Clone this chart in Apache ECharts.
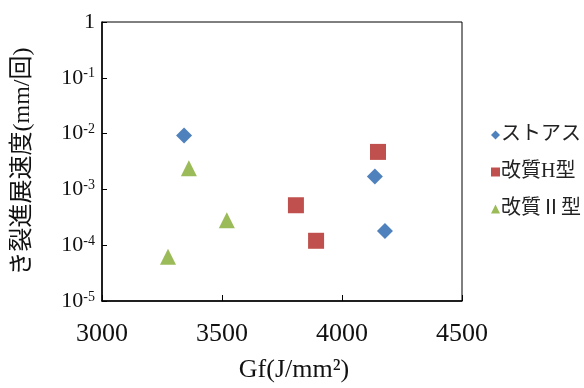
<!DOCTYPE html>
<html>
<head>
<meta charset="utf-8">
<script src="https://cdn.jsdelivr.net/npm/echarts@6/dist/echarts.min.js"></script>
<style>html,body{margin:0;padding:0;background:#fff;}#c{width:584px;height:388px;}</style>
</head>
<body>
<div id="c"></div>
<script>
const seriesNames = ['ストアス', '改質H型', '改質Ⅱ型'];
const stoasX = [3342, 4137, 4179];
const stoasY = [9.2e-3, 1.7e-3, 1.8e-4];
const typeHX = [3808, 3892, 4150];
const typeHY = [5.2e-4, 1.2e-4, 4.7e-3];
const type2X = [3362, 3520, 3275];
const type2Y = [2.4e-3, 2.8e-4, 6.2e-5];
const xTicks = [3000, 3500, 4000, 4500];
const yExponents = [0, -1, -2, -3, -4, -5];

const colors = ['#4F81BD', '#C0504D', '#9BBB59'];
const symbols = ['diamond', 'rect', 'triangle'];
const serif = '"Liberation Serif", "Noto Sans CJK JP", serif';
const pair = (xs, ys) => xs.map((x, i) => [x, ys[i]]);
const allData = [pair(stoasX, stoasY), pair(typeHX, typeHY), pair(type2X, type2Y)];

const chart = echarts.init(document.getElementById('c'), null, {renderer: 'canvas'});
chart.setOption({
  backgroundColor: '#fff',
  animation: false,
  grid: {left: 102, top: 22, width: 360, height: 280, show: true, borderColor: '#000', borderWidth: 1, containLabel: false},
  legend: {
    orient: 'vertical', left: 486, top: 120, itemGap: 17, itemWidth: 9, itemHeight: 9,
    textStyle: {fontSize: 20, lineHeight: 20, color: '#222', fontFamily: serif, padding: [0, 0, 0, -4]},
    data: seriesNames.map((n, i) => ({name: n, icon: symbols[i]}))
  },
  xAxis: {
    type: 'value', min: xTicks[0], max: xTicks[xTicks.length - 1], interval: 500,
    name: 'Gf(J/mm²)', nameLocation: 'middle', nameGap: 56,
    nameTextStyle: {fontSize: 26, color: '#111', fontFamily: serif, padding: [0, 0, 0, 24]},
    axisLine: {lineStyle: {color: '#000', width: 1.5}},
    axisTick: {inside: true, length: 6, lineStyle: {color: '#000'}},
    axisLabel: {fontSize: 26, color: '#111', fontFamily: serif, margin: 20, formatter: v => String(v)},
    splitLine: {show: false}
  },
  yAxis: {
    type: 'log', logBase: 10, min: Math.pow(10, yExponents[yExponents.length - 1]), max: Math.pow(10, yExponents[0]),
    name: 'き裂進展速度(mm/回)', nameLocation: 'middle', nameGap: 67,
    nameTextStyle: {fontSize: 24, color: '#111', fontFamily: serif},
    axisLine: {lineStyle: {color: '#000', width: 1.5}},
    axisTick: {inside: true, length: 5, lineStyle: {color: '#000'}},
    axisLabel: {
      margin: 7, color: '#111', fontFamily: serif,
      formatter: v => {
        const e = Math.round(Math.log10(v));
        return e === 0 ? '{b|1}' : '{b|10}{s|' + e + '}';
      },
      rich: {
        b: {fontSize: 22, lineHeight: 22, fontFamily: serif, color: '#111'},
        s: {fontSize: 14, lineHeight: 14, fontFamily: serif, color: '#111', verticalAlign: 'top', padding: [0, 0, 10, 0]}
      }
    },
    splitLine: {show: false},
    minorTick: {show: false}
  },
  series: seriesNames.map((n, i) => ({
    name: n, type: 'scatter', symbol: symbols[i], symbolSize: 16,
    itemStyle: {color: colors[i], opacity: 1},
    data: allData[i]
  }))
});
</script>
</body>
</html>
